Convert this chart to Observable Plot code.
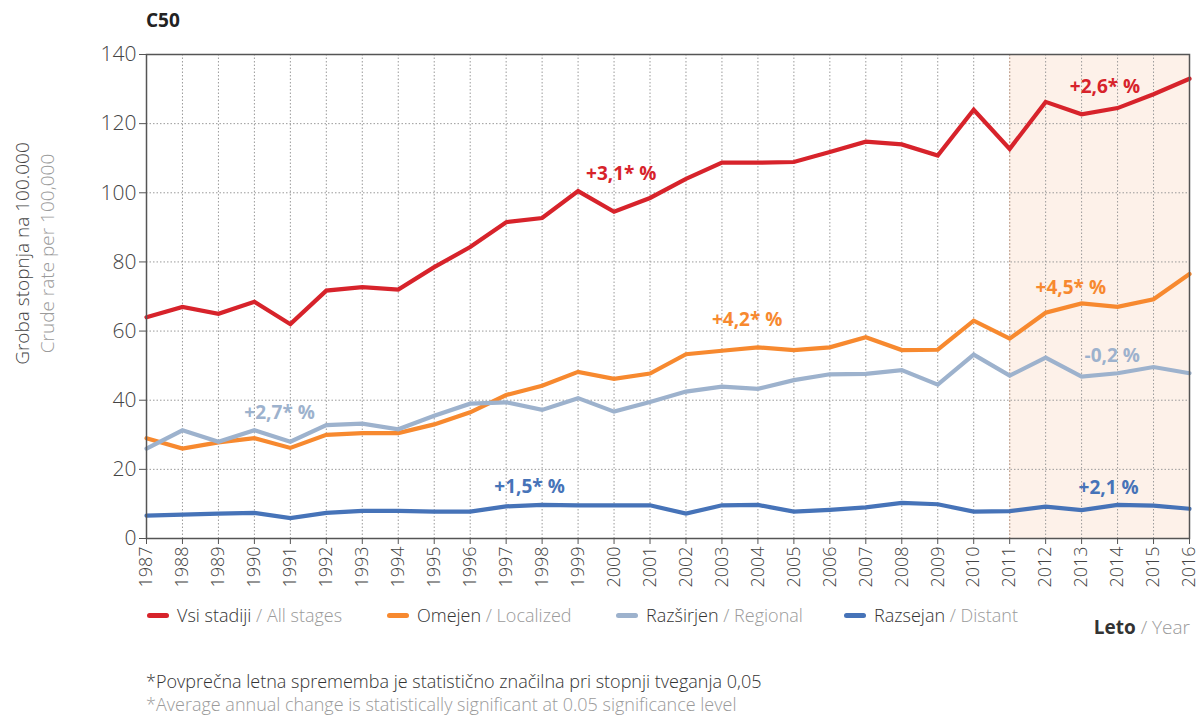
<!DOCTYPE html>
<html>
<head>
<meta charset="utf-8">
<script src="https://cdn.jsdelivr.net/npm/d3@7"></script>
<script src="https://cdn.jsdelivr.net/npm/@observablehq/plot@0.6"></script>
<style>
  body { margin: 0; background: #fff; font-family: "Open Sans", sans-serif; }
  #wrap { position: relative; width: 1200px; height: 717px; overflow: hidden; }
  #title { position: absolute; left: 146px; top: 7px; font-weight: 700; font-size: 19px; color: #222; }
  #chart { position: absolute; left: 0; top: 36px; }
  #legend { position: absolute; left: 147px; top: 603px; font-size: 18px; font-weight: 300; color: #333; }
  .item { position: absolute; white-space: nowrap; display: flex; align-items: center; }
  .sw { display: inline-block; width: 22px; height: 5px; border-radius: 2.5px; margin-right: 8px; }
  .g { color: #9a9a9a; }
  #xlab { position: absolute; right: 10px; top: 614px; font-size: 19px; font-weight: 700; color: #333; }
  #foot { position: absolute; left: 146px; top: 670px; font-size: 18px; font-weight: 300; line-height: 23px; color: #333; }
</style>
</head>
<body>
<div id="wrap">
  <div id="title">C50</div>
  <div id="chart"></div>
  <div id="legend"></div>
  <div id="xlab">Leto <span class="g" style="font-weight:300">/ Year</span></div>
  <div id="foot">
    <div>*Povprečna letna sprememba je statistično značilna pri stopnji tveganja 0,05</div>
    <div class="g">*Average annual change is statistically significant at 0.05 significance level</div>
  </div>
</div>
<script>
const years = d3.range(1987, 2017);
const allStages = [64, 67, 65, 68.5, 62, 71.7, 72.7, 72, 78.5, 84.3, 91.5, 92.7, 100.5, 94.5, 98.5, 104, 108.7, 108.7, 108.9, 111.8, 114.8, 114, 110.8, 124, 112.7, 126.3, 122.7, 124.5, 128.5, 133];
const localized = [29, 26, 27.8, 29, 26.2, 30, 30.5, 30.5, 33, 36.5, 41.5, 44.2, 48.2, 46.2, 47.7, 53.3, 54.3, 55.3, 54.5, 55.3, 58.2, 54.5, 54.6, 63, 57.8, 65.3, 68, 67, 69.2, 76.5];
const regional = [26, 31.3, 28, 31.3, 28, 32.8, 33.2, 31.6, 35.5, 39, 39.4, 37.2, 40.6, 36.7, 39.5, 42.5, 43.9, 43.3, 45.8, 47.5, 47.6, 48.7, 44.5, 53.2, 47.1, 52.3, 46.8, 47.8, 49.6, 47.8];
const distant = [6.6, 6.9, 7.2, 7.4, 5.9, 7.4, 8, 8, 7.8, 7.8, 9.3, 9.7, 9.6, 9.6, 9.6, 7.2, 9.6, 9.7, 7.8, 8.3, 9, 10.3, 9.9, 7.8, 7.9, 9.2, 8.2, 9.7, 9.5, 8.6];

const seriesKeys = ["all", "loc", "reg", "dist"];
const seriesSl = ["Vsi stadiji", "Omejen", "Razširjen", "Razsejan"];
const seriesEn = ["All stages", "Localized", "Regional", "Distant"];
const seriesColors = ["#d7232b", "#f7892f", "#9db2cd", "#4673b8"];
const seriesValues = [allStages, localized, regional, distant];

const labelText = ["+3,1* %", "+2,6* %", "+4,2* %", "+4,5* %", "+2,7* %", "-0,2 %", "+1,5* %", "+2,1 %"];
const labelSeries = ["all", "all", "loc", "loc", "reg", "reg", "dist", "dist"];
const labelYear = [2000.2, 2013.65, 2003.7, 2012.7, 1990.7, 2013.85, 1997.65, 2013.75];
const labelValue = [105.6, 130.7, 63.1, 72.6, 36.4, 52.9, 15, 14.5];

const yTicks = [0, 20, 40, 60, 80, 100, 120, 140];
const highlightYears = [2011, 2016];

const rows = [];
seriesKeys.forEach((k, i) => years.forEach((yr, j) => rows.push({key: k, year: yr, value: seriesValues[i][j]})));
const labels = labelText.map((t, i) => ({text: t, key: labelSeries[i], year: labelYear[i], value: labelValue[i]}));
const colorOf = k => seriesColors[seriesKeys.indexOf(k)];

const plot = Plot.plot({
  width: 1200,
  height: 568,
  marginLeft: 146,
  marginRight: 11,
  marginTop: 18,
  marginBottom: 66,
  style: {fontFamily: "Open Sans, sans-serif", background: "transparent"},
  x: {domain: [1987, 2016], label: null},
  y: {domain: [0, 140], label: null},
  marks: [
    Plot.rect([highlightYears], {x1: d => d[0], x2: d => d[1], y1: 0, y2: 140, fill: "#fdf1e9"}),
    Plot.gridX(years, {stroke: "#9a9a9a", strokeOpacity: 1, strokeDasharray: "1.5,2", strokeWidth: 1}),
    Plot.gridY(yTicks, {stroke: "#9a9a9a", strokeOpacity: 1, strokeDasharray: "1.5,2", strokeWidth: 1}),
    Plot.ruleX([highlightYears[0]], {stroke: "#c9a58f", strokeDasharray: "1.5,2"}),
    Plot.line(rows, {x: "year", y: "value", z: "key", stroke: d => colorOf(d.key), strokeWidth: 4.2, strokeLinejoin: "miter", strokeMiterlimit: 3}),
    Plot.text(labels, {x: "year", y: "value", text: "text", fill: d => colorOf(d.key), fontSize: 19, fontWeight: 700}),
    Plot.frame({stroke: "#555", strokeWidth: 1.5}),
    Plot.axisY(yTicks, {tickSize: 7, tickPadding: 3, fontSize: 21, fontWeight: 300, fill: "#444", stroke: "#555", label: null}),
    Plot.axisX(years, {tickSize: 6, tickPadding: 2, tickRotate: -90, tickFormat: d => String(d), fontSize: 18, fontWeight: 300, fill: "#444", stroke: "#555", label: null}),
    Plot.text(["Groba stopnja na 100.000"], {frameAnchor: "left", textAnchor: "middle", rotate: -90, dx: -124, dy: -43, fill: "#444", fontSize: 19, fontWeight: 300}),
    Plot.text(["Crude rate per 100,000"], {frameAnchor: "left", textAnchor: "middle", rotate: -90, dx: -99, dy: -43, fill: "#9a9a9a", fontSize: 19, fontWeight: 300})
  ]
});
document.getElementById("chart").appendChild(plot);

const legendX = [0, 240, 469, 697];
const legend = document.getElementById("legend");
seriesKeys.forEach((k, i) => {
  const it = document.createElement("div");
  it.className = "item";
  it.style.left = legendX[i] + "px";
  it.innerHTML = `<span class="sw" style="background:${seriesColors[i]}"></span><span>${seriesSl[i]}</span>&nbsp;<span class="g">/ ${seriesEn[i]}</span>`;
  legend.appendChild(it);
});
</script>
</body>
</html>
